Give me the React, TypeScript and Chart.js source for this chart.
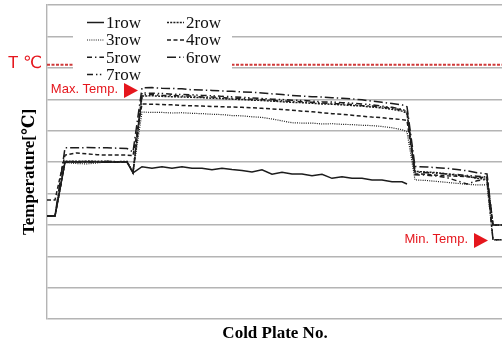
import React, { useEffect, useRef } from "react";
import { Chart, registerables } from "chart.js";

Chart.register(...registerables);

const plates = [0, 1.6, 3.6, 6, 8, 10, 12, 14, 16, 17.2,
  19, 21, 23, 25, 27, 29, 31, 33, 35, 37, 39, 41, 43, 45, 47, 49, 51, 53, 55, 57, 59, 61, 63, 65, 67, 69, 71, 72,
  73.6, 76, 78, 80, 82, 84, 86, 88, 89.2, 91];

const row1 = [3.28, 3.28, 5.0, 5.0, 5.01, 5.0, 4.99, 5.0, 5.0, 4.65,
  4.85, 4.80, 4.85, 4.80, 4.85, 4.80, 4.80, 4.75, 4.80, 4.76, 4.73, 4.68, 4.75, 4.61, 4.67, 4.62, 4.62, 4.56, 4.61, 4.48, 4.53, 4.48, 4.48, 4.43, 4.43, 4.37, 4.37, 4.30,
  null, null, null, null, null, null, null, null, null, null];
const row2 = [3.28, 3.28, 5.02, 5.02, 5.03, 5.02, 5.02, 5.01, 5.02, 4.68,
  7.10, 7.11, 7.09, 7.08, 7.07, 7.06, 7.05, 7.03, 7.02, 7.00, 6.99, 6.97, 6.96, 6.94, 6.92, 6.90, 6.89, 6.87, 6.85, 6.84, 6.82, 6.80, 6.78, 6.75, 6.72, 6.68, 6.62, 6.55,
  4.70, 4.68, 4.66, 4.62, 4.58, 4.55, 4.48, 4.45, 2.99, 2.99];
const row3 = [3.28, 3.28, 4.98, 4.95, 4.94, 4.97, 5.0, 4.99, 5.0, 4.65,
  6.59, 6.58, 6.58, 6.56, 6.57, 6.55, 6.54, 6.52, 6.51, 6.48, 6.47, 6.44, 6.42, 6.37, 6.31, 6.25, 6.24, 6.24, 6.21, 6.22, 6.20, 6.19, 6.17, 6.16, 6.13, 6.09, 6.03, 5.96,
  4.43, 4.41, 4.38, 4.35, 4.32, 4.29, 4.27, 4.27, 2.52, 2.52];
const row4 = [3.79, 3.79, 5.22, 5.29, 5.26, 5.23, 5.22, 5.22, 5.22, 5.20,
  6.85, 6.84, 6.83, 6.82, 6.80, 6.79, 6.78, 6.77, 6.76, 6.75, 6.74, 6.73, 6.71, 6.69, 6.67, 6.65, 6.62, 6.60, 6.57, 6.54, 6.52, 6.49, 6.46, 6.43, 6.41, 6.38, 6.35, 6.32,
  4.62, 4.61, 4.58, 4.56, 4.55, 4.53, 4.50, 4.52, 2.99, 2.99];
const row5 = [3.28, 3.28, 5.0, 5.0, 5.0, 5.01, 5.0, 5.0, 5.0, 4.65,
  7.14, 7.15, 7.12, 7.12, 7.10, 7.10, 7.07, 7.07, 7.05, 7.03, 7.02, 7.00, 6.99, 6.96, 6.95, 6.93, 6.92, 6.90, 6.88, 6.86, 6.85, 6.83, 6.80, 6.78, 6.75, 6.71, 6.66, 6.60,
  4.59, 4.58, 4.55, 4.50, 4.40, 4.30, 4.40, 4.45, 2.52, 2.52];
const row6 = [3.28, 3.28, 5.45, 5.45, 5.46, 5.45, 5.45, 5.44, 5.43, 5.32,
  7.36, 7.37, 7.35, 7.34, 7.33, 7.30, 7.29, 7.28, 7.26, 7.25, 7.23, 7.22, 7.20, 7.17, 7.15, 7.12, 7.10, 7.08, 7.07, 7.05, 7.03, 7.01, 6.98, 6.94, 6.90, 6.86, 6.82, 6.76,
  4.86, 4.84, 4.82, 4.80, 4.76, 4.72, 4.66, 4.62, 2.99, 2.99];
const row7 = [3.28, 3.28, 5.02, 5.01, 5.02, 5.01, 5.02, 5.01, 5.0, 4.66,
  7.20, 7.19, 7.18, 7.16, 7.15, 7.14, 7.12, 7.11, 7.09, 7.08, 7.06, 7.04, 7.02, 7.00, 6.99, 6.97, 6.96, 6.94, 6.92, 6.91, 6.89, 6.87, 6.85, 6.82, 6.78, 6.74, 6.68, 6.62,
  4.68, 4.66, 4.64, 4.62, 4.60, 4.57, 4.55, 4.52, 2.52, 2.52];

const seriesLabels = ["1row", "2row", "3row", "4row", "5row", "6row", "7row"];
const seriesValues = [row1, row2, row3, row4, row5, row6, row7];
const seriesDashes: number[][] = [[], [2, 1.2], [1, 1.2], [4, 2.5], [5, 3, 1.4, 3], [9, 3, 1.4, 3], [6, 3, 1.4, 2.5, 1.4, 3]];

const tempLineValue = 8.1;
const maxMarker = { plate: 18.2, value: 7.28, text: "Max. Temp." };
const minMarker = { plate: 88.2, value: 2.5, text: "Min. Temp." };

const RED = "#e5161d";

const overlayPlugin = {
  id: "overlay",
  afterDatasetsDraw(chart: any) {
    const { ctx, chartArea, scales } = chart;
    const xs = scales.x;
    const ys = scales.y;
    ctx.save();
    // T line
    const ty = ys.getPixelForValue(tempLineValue);
    ctx.strokeStyle = "#cf3a3a";
    ctx.lineWidth = 2;
    ctx.setLineDash([3, 1.5]);
    ctx.beginPath();
    ctx.moveTo(chartArea.left, ty);
    ctx.lineTo(chartArea.right, ty);
    ctx.stroke();
    ctx.setLineDash([]);
    ctx.fillStyle = RED;
    ctx.font = "17px 'Liberation Sans', 'DejaVu Sans'";
    ctx.textBaseline = "middle";
    ctx.textAlign = "left";
    ctx.fillText("T \u2103", 8, ty - 1);

    // legend box
    ctx.fillStyle = "#ffffff";
    ctx.fillRect(73, 11, 159, 73);
    const colX = [87, 167];
    const rowY = [22.5, 40, 57.3, 74.5];
    ctx.font = "17px 'Liberation Serif', 'DejaVu Serif'";
    chart.data.datasets.forEach((ds: any, i: number) => {
      const c = i % 2;
      const r = Math.floor(i / 2);
      const x0 = colX[c];
      const y0 = rowY[r];
      ctx.strokeStyle = ds.borderColor;
      ctx.lineWidth = ds.borderWidth;
      ctx.setLineDash(ds.borderDash || []);
      ctx.beginPath();
      ctx.moveTo(x0, y0);
      ctx.lineTo(x0 + 17, y0);
      ctx.stroke();
      ctx.setLineDash([]);
      ctx.fillStyle = "#111";
      ctx.textAlign = "left";
      ctx.fillText(ds.label, x0 + 19, y0 + 1);
    });

    // markers
    const drawMarker = (m: any) => {
      const tipX = xs.getPixelForValue(m.plate);
      const my = ys.getPixelForValue(m.value);
      ctx.fillStyle = RED;
      ctx.beginPath();
      ctx.moveTo(tipX, my);
      ctx.lineTo(tipX - 14, my - 7.5);
      ctx.lineTo(tipX - 14, my + 7.5);
      ctx.closePath();
      ctx.fill();
      ctx.font = "13px 'Liberation Sans', 'DejaVu Sans'";
      ctx.textAlign = "right";
      ctx.textBaseline = "middle";
      ctx.fillText(m.text, tipX - 20, my - 1);
    };
    drawMarker(maxMarker);
    drawMarker(minMarker);

    // axis titles
    ctx.fillStyle = "#000";
    ctx.font = "bold 17px 'Liberation Serif', 'DejaVu Serif'";
    ctx.textAlign = "center";
    ctx.textBaseline = "middle";
    ctx.fillText("Cold Plate No.", 275, 334);
    ctx.translate(29.5, 172);
    ctx.rotate(-Math.PI / 2);
    ctx.fillText("Temperature[\u2103]", 0, 0);
    ctx.restore();
  },
};

export default function App() {
  const ref = useRef<HTMLCanvasElement | null>(null);
  useEffect(() => {
    if (!ref.current) return;
    const datasets = seriesLabels.map((label, i) => ({
      label,
      data: plates.map((p, j) => ({ x: p, y: seriesValues[i][j] })),
      borderColor: "#1c1c1c",
      borderWidth: i === 2 ? 1.2 : 1.5,
      borderDash: seriesDashes[i],
      pointRadius: 0,
      tension: 0,
      fill: false,
      spanGaps: false,
    }));
    const chart = new Chart(ref.current, {
      type: "line",
      data: { datasets: datasets as any },
      options: {
        animation: false,
        responsive: false,
        layout: { padding: { left: 47, top: 5, right: 0, bottom: 26 } },
        plugins: { legend: { display: false }, tooltip: { enabled: false } },
        scales: {
          x: {
            type: "linear",
            min: 0,
            max: 91,
            ticks: { display: false },
            grid: { display: false, drawTicks: false },
            border: { display: false },
            afterFit: (s: any) => { s.height = 0; },
          },
          y: {
            min: 0,
            max: 10,
            ticks: { display: false, stepSize: 1 },
            grid: { color: "#b4b4b4", lineWidth: 1.4, drawTicks: false },
            border: { display: true, color: "#b4b4b4", width: 1.4 },
            afterFit: (s: any) => { s.width = 0; },
          },
        },
      },
      plugins: [overlayPlugin],
    });
    return () => chart.destroy();
  }, []);
  return (
    <div style={{ position: "absolute", left: 0, top: 0, width: 502, height: 345, background: "#fff" }}>
      <canvas ref={ref} width={502} height={345} style={{ display: "block" }} />
    </div>
  );
}
